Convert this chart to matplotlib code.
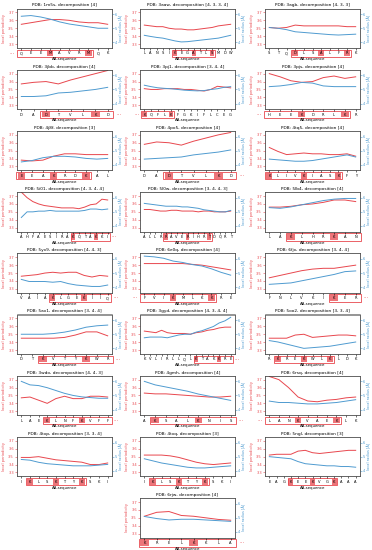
import matplotlib
matplotlib.use("Agg")
import matplotlib.pyplot as plt
from matplotlib.patches import Rectangle
import matplotlib.transforms as mtransforms

RED = "#e8474e"
BLUE = "#4f9bd0"

titles = [
    "PDB: 1m5s, decomposition [4]", "PDB: 3aaw, decomposition [4, 3, 3, 4]", "PDB: 3agb, decomposition [4, 3, 3]",
    "PDB: 3jbb, decomposition [4]", "PDB: 3pj1, decomposition [3, 4, 4]", "PDB: 3pjs, decomposition [4]",
    "PDB: 4j8f, decomposition [3]", "PDB: 4po5, decomposition [4]", "PDB: 4tq5, decomposition [4]",
    "PDB: 5i01, decomposition [4, 3, 4, 4]", "PDB: 5l0w, decomposition [3, 4, 4, 3]", "PDB: 5lb4, decomposition [4]",
    "PDB: 5yx9, decomposition [4, 4, 3]", "PDB: 6e0q, decomposition [4]", "PDB: 6fjx, decomposition [3, 4, 4]",
    "PDB: 5ax1, decomposition [3, 4, 4]", "PDB: 3gyd, decomposition [4, 3, 4, 4]", "PDB: 5oo2, decomposition [3, 3, 4]",
    "PDB: 3wdo, decomposition [4, 4, 3]", "PDB: 4gmh, decomposition [4]", "PDB: 6rsq, decomposition [4]",
    "PDB: 4txp, decomposition [3, 3, 4]", "PDB: 4txq, decomposition [3]", "PDB: 5ngl, decomposition [3]",
    "PDB: 6rjw, decomposition [4]",
]

sequences = [
    "QEEMAVRMQK", "LANSIKEGATLSMDW", "STQDLSALFRK",
    "DADTVLKD", "KQFLKFGKIFLCEG", "HEEKDRLKR",
    "EEAKRDKAL", "DADTVLKD", "KLIVKIASKFY",
    "AHFAESIRAKQTAKKI", "ALLRRAVERIHRTDQRT", "LAKLHRKAN",
    "VAIAKLGEKIIQ", "FVIKMLKKRE", "FNLVKIKER",
    "DTKVTYKWR", "KVLIRLLQLKTAKKRE", "RKREKWLKLDK",
    "LAEKLNFKVFF", "AKSALKNIS", "LANKVAEKLK",
    "IKLSKTYKSKI", "IKLSKTYKSKI", "EAGKEEKVGKAAA",
    "KRELKKLA",
]

periodicity = [
    [3.55, 3.57, 3.59, 3.61, 3.61, 3.60, 3.58, 3.57, 3.57, 3.55],
    [3.54, 3.53, 3.52, 3.52, 3.50, 3.49, 3.49, 3.48, 3.48, 3.49, 3.50, 3.51, 3.53, 3.54, 3.55],
    [3.51, 3.50, 3.51, 3.54, 3.53, 3.53, 3.53, 3.53, 3.53, 3.52, 3.52],
    [3.57, 3.59, 3.60, 3.57, 3.62, 3.66, 3.70, 3.74],
    [3.51, 3.50, 3.50, 3.51, 3.51, 3.51, 3.50, 3.50, 3.49, 3.48, 3.50, 3.54, 3.53, 3.52],
    [3.70, 3.66, 3.61, 3.59, 3.60, 3.65, 3.67, 3.64, 3.66],
    [3.38, 3.37, 3.38, 3.43, 3.46, 3.46, 3.45, 3.45, 3.45],
    [3.58, 3.61, 3.60, 3.57, 3.62, 3.66, 3.70, 3.73],
    [3.54, 3.49, 3.45, 3.46, 3.47, 3.46, 3.46, 3.45, 3.45, 3.46, 3.43],
    [3.75, 3.68, 3.63, 3.60, 3.58, 3.57, 3.56, 3.55, 3.55, 3.55, 3.54, 3.56, 3.59, 3.60, 3.66, 3.65],
    [3.53, 3.53, 3.52, 3.51, 3.51, 3.52, 3.52, 3.51, 3.51, 3.51, 3.50, 3.51, 3.51, 3.50, 3.50, 3.50, 3.51],
    [3.56, 3.56, 3.57, 3.59, 3.60, 3.62, 3.65, 3.65, 3.63],
    [3.46, 3.47, 3.48, 3.50, 3.51, 3.50, 3.51, 3.51, 3.47, 3.45, 3.47, 3.46],
    [3.62, 3.62, 3.62, 3.62, 3.62, 3.61, 3.60, 3.58, 3.56, 3.54],
    [3.44, 3.47, 3.50, 3.53, 3.55, 3.56, 3.56, 3.58, 3.60],
    [3.45, 3.45, 3.45, 3.45, 3.46, 3.49, 3.53, 3.53, 3.48],
    [3.54, 3.53, 3.52, 3.55, 3.52, 3.51, 3.51, 3.51, 3.50, 3.52, 3.53, 3.55, 3.56, 3.58, 3.59, 3.59],
    [3.45, 3.45, 3.45, 3.49, 3.50, 3.46, 3.47, 3.48, 3.49, 3.49, 3.48],
    [3.47, 3.48, 3.44, 3.40, 3.46, 3.49, 3.46, 3.46, 3.49, 3.49, 3.48],
    [3.53, 3.52, 3.52, 3.51, 3.50, 3.49, 3.48, 3.48, 3.49],
    [3.74, 3.70, 3.60, 3.48, 3.43, 3.42, 3.44, 3.45, 3.47, 3.48],
    [3.49, 3.49, 3.50, 3.48, 3.46, 3.45, 3.44, 3.43, 3.40, 3.40, 3.42],
    [3.52, 3.52, 3.52, 3.51, 3.49, 3.46, 3.43, 3.41, 3.40, 3.41, 3.42],
    [3.52, 3.53, 3.53, 3.53, 3.57, 3.58, 3.55, 3.54, 3.55, 3.56, 3.57, 3.58, 3.58],
    [3.52, 3.57, 3.58, 3.53, 3.52, 3.50, 3.48, 3.47],
]

radius = [
    [5.85, 5.90, 5.80, 5.65, 5.45, 5.30, 5.20, 5.10, 5.00, 5.00],
    [4.50, 4.42, 4.35, 4.30, 4.20, 4.10, 4.03, 4.05, 4.10, 4.15, 4.20, 4.25, 4.30, 4.40, 4.50],
    [5.05, 5.00, 4.90, 4.75, 4.70, 4.65, 4.60, 4.55, 4.52, 4.55, 4.58],
    [4.50, 4.50, 4.55, 4.75, 4.80, 4.90, 5.00, 5.15],
    [5.30, 5.20, 5.12, 5.08, 5.05, 5.00, 4.95, 4.92, 4.90, 4.92, 5.00, 5.05, 5.15, 5.20],
    [5.20, 5.25, 5.35, 5.50, 5.45, 5.25, 5.20, 5.20, 5.20],
    [4.20, 4.30, 4.50, 4.60, 4.60, 4.55, 4.45, 4.40, 4.45],
    [4.40, 4.45, 4.50, 4.55, 4.70, 4.80, 4.90, 5.05],
    [4.40, 4.35, 4.30, 4.25, 4.25, 4.30, 4.40, 4.50, 4.60, 4.70, 4.55],
    [4.60, 5.00, 5.00, 5.05, 5.05, 5.10, 5.05, 5.05, 5.05, 5.05, 5.05, 5.10, 5.20, 5.20, 5.15, 5.20],
    [5.60, 5.55, 5.50, 5.45, 5.40, 5.40, 5.40, 5.35, 5.35, 5.30, 5.25, 5.15, 5.10, 5.05, 5.00, 5.00, 5.10],
    [5.30, 5.25, 5.35, 5.50, 5.65, 5.80, 5.90, 5.95, 5.95],
    [4.55, 4.40, 4.40, 4.40, 4.35, 4.40, 4.25, 4.15, 4.10, 4.05, 4.05, 4.15],
    [6.20, 6.15, 6.05, 5.85, 5.75, 5.60, 5.50, 5.30, 5.05, 4.85],
    [4.20, 4.25, 4.30, 4.45, 4.60, 4.75, 4.90, 5.10, 5.15],
    [5.00, 5.00, 5.00, 5.05, 5.15, 5.30, 5.50, 5.60, 5.65],
    [4.75, 4.80, 4.80, 4.80, 4.75, 4.85, 4.95, 5.00, 5.00, 5.15, 5.25, 5.40, 5.55, 5.80, 5.95, 6.20],
    [4.55, 4.45, 4.30, 4.15, 4.00, 4.05, 4.10, 4.15, 4.25, 4.35, 4.45],
    [6.00, 5.75, 5.70, 5.55, 5.35, 5.15, 5.00, 4.90, 4.85, 4.80, 4.80],
    [6.00, 5.75, 5.60, 5.45, 5.30, 5.10, 4.95, 4.80, 4.65],
    [4.60, 4.50, 4.50, 4.45, 4.40, 4.40, 4.45, 4.50, 4.60, 4.70],
    [4.80, 4.75, 4.60, 4.50, 4.45, 4.40, 4.35, 4.35, 4.35, 4.40, 4.45],
    [4.85, 4.70, 4.55, 4.45, 4.35, 4.25, 4.20, 4.20, 4.25, 4.30, 4.35],
    [5.00, 4.95, 4.90, 4.85, 4.65, 4.50, 4.45, 4.40, 4.35, 4.35, 4.30, 4.30, 4.25],
    [5.10, 4.95, 4.85, 4.90, 4.90, 4.85, 4.80, 4.75],
]

# segment boxes (first, last residue index), marked residues, side of the "..." marker
boxes = [
    (0, 7), (5, 11), (3, 9),
    (2, 7), (0, 4), (0, 7),
    (0, 6), (2, 7), (0, 8),
    (9, 15), (4, 12), (2, 8),
    (4, 11), (0, 7), (6, 8),
    (2, 8), (9, 15), (1, 7),
    (3, 10), (1, 8), (0, 7),
    (1, 7), (1, 7), (3, 9),
    (0, 7),
]
marked = [
    [3, 7], [5, 8, 11], [3, 6, 9],
    [2, 6], [0, 4], [3, 7],
    [0, 3, 6], [2, 6], [0, 4, 8],
    [9, 13], [4, 8, 12], [2, 6],
    [4, 8], [3, 7], [6],
    [2, 6], [9, 13], [1, 4, 7],
    [3, 7], [1, 5], [3, 7],
    [1, 4, 7], [1, 4, 7], [3, 6, 9],
    [0, 4],
]
dots = [
    "L", None, None,
    "R", "L", "L",
    None, "R", None,
    "R", None, None,
    "R", "L", "R",
    "R", "R", None,
    "R", "R", "L",
    None, None, None,
    "R",
]

plt.rcParams["font.size"] = 3
W, H = 372, 550
fig = plt.figure(figsize=(W / 100, H / 100), dpi=100)

col_left = [17, 140, 265]
pitch = 61.2

for k, title in enumerate(titles):
    r, c = divmod(k, 3)
    if k == 24:
        c = 1
    top = 8.5 + pitch * r
    bot = 48 + pitch * r
    ax = fig.add_axes([col_left[c] / W, 1 - bot / H, 95 / W, (bot - top) / H])
    seq = list(sequences[k])
    x = list(range(len(seq)))
    ax.plot(x, periodicity[k], color=RED, lw=0.7)
    ax.set_ylim(3.25, 3.75)
    ax.set_yticks([3.3, 3.4, 3.5, 3.6, 3.7])
    ax.tick_params(axis="y", colors=RED, labelsize=2.6, length=1.2, width=0.4, pad=1)
    ax.tick_params(axis="x", labelsize=2.6, length=1.2, width=0.4, pad=1.2)
    ax.set_ylabel("local periodicity", color=RED, fontsize=2.6, labelpad=1.5)
    ax.set_xticks(x)
    ax.set_xticklabels(seq)
    ax.set_xlabel("AA-sequence", fontsize=2.8, labelpad=1.3)
    ax.set_title(title, fontsize=3.1, pad=1.5)

    ax2 = ax.twinx()
    ax2.plot(x, radius[k], color=BLUE, lw=0.7)
    ax2.set_ylim(3.6, 6.4)
    ax2.set_yticks([4, 5, 6])
    ax2.tick_params(axis="y", colors=BLUE, labelsize=2.6, length=1.2, width=0.4, pad=1)
    ax2.set_ylabel("local radius [Å]", color=BLUE, fontsize=2.6, labelpad=1.5)
    for a in (ax, ax2):
        for s in a.spines.values():
            s.set_linewidth(0.4)
            s.set_color("#444444")

    trans = mtransforms.blended_transform_factory(ax.transData, ax.transAxes)
    b0, b1 = boxes[k]
    ax.add_patch(Rectangle((b0 - 0.45, -0.23), b1 - b0 + 0.9, 0.19, transform=trans,
                           fill=False, edgecolor=RED, lw=0.6, clip_on=False))
    for m in marked[k]:
        ax.add_patch(Rectangle((m - 0.35, -0.21), 0.7, 0.15, transform=trans,
                               facecolor=RED, alpha=0.75, edgecolor="none", clip_on=False))
    if dots[k] == "L":
        ax.text(b0 - 0.7, -0.135, "···", transform=trans, color=RED, fontsize=4,
                ha="right", va="center", clip_on=False)
    elif dots[k] == "R":
        ax.text(b1 + 0.7, -0.135, "···", transform=trans, color=RED, fontsize=4,
                ha="left", va="center", clip_on=False)

fig.savefig("out.png", dpi=100)
